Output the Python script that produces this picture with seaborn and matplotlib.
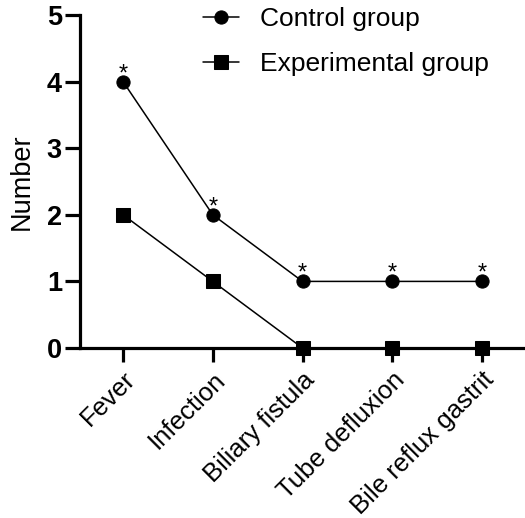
import matplotlib
matplotlib.use("Agg")
import matplotlib.pyplot as plt
import seaborn as sns
import pandas as pd

categories = ["Fever", "Infection", "Biliary fistula", "Tube defluxion", "Bile reflux gastrit"]
control = [4, 2, 1, 1, 1]
experimental = [2, 1, 0, 0, 0]
groups = ["Control group", "Experimental group"]
yticks = [0, 1, 2, 3, 4, 5]

sns.set_theme(style="ticks")
plt.rcParams["font.family"] = ["Liberation Sans", "DejaVu Sans"]
plt.rcParams.update({"text.color": "black", "axes.labelcolor": "black",
                     "xtick.color": "black", "ytick.color": "black",
                     "axes.edgecolor": "black"})

df = pd.DataFrame({
    "Complication": categories * 2,
    "Number": control + experimental,
    "Group": [groups[0]] * len(categories) + [groups[1]] * len(categories),
})

fig = plt.figure(figsize=(5.25, 5.18), dpi=100)
ax = fig.add_axes([80 / 525, 1 - 348 / 518, 445 / 525, 333 / 518])

sns.lineplot(data=df, x="Complication", y="Number", hue="Group", style="Group",
             markers={groups[0]: "o", groups[1]: "s"}, dashes=False,
             palette={groups[0]: "black", groups[1]: "black"},
             markersize=9.5, linewidth=1.1, markeredgecolor="black",
             ax=ax, legend=True, sort=False, clip_on=False, zorder=5)

for i, v in enumerate(control):
    ax.annotate("*", xy=(i, v), xytext=(0, 1.0), textcoords="offset points",
                ha="center", va="baseline", fontsize=17, color="black")

ax.set_xlim(-0.48, 4.48)
ax.set_ylim(0, 5)
ax.set_yticks(yticks)
ax.set_yticklabels([str(t) for t in yticks], fontsize=19.5, fontweight="bold", color="black")
ax.set_xticks(range(len(categories)))
ax.set_xticklabels(categories, rotation=45, ha="right", rotation_mode="anchor",
                   fontsize=18.5, color="black")
ax.set_xlabel("")
ax.set_ylabel("Number", fontsize=19.5, labelpad=9, color="black")

for s in ["top", "right"]:
    ax.spines[s].set_visible(False)
for s in ["left", "bottom"]:
    ax.spines[s].set_linewidth(2.3)
    ax.spines[s].set_color("black")
ax.tick_params(axis="y", length=11, width=2.3, pad=2, colors="black")
ax.tick_params(axis="x", length=10, width=2.3, pad=4, colors="black")

h, l = ax.get_legend_handles_labels()
leg = ax.legend(h, l, loc="upper left", bbox_to_anchor=(203 / 525, 1 - 7 / 518),
                bbox_transform=fig.transFigure, frameon=False, fontsize=19,
                handlelength=1.35, handletextpad=0.8, labelspacing=0.8,
                borderpad=0, borderaxespad=0, labelcolor="black")

fig.savefig("out.png", dpi=100)
